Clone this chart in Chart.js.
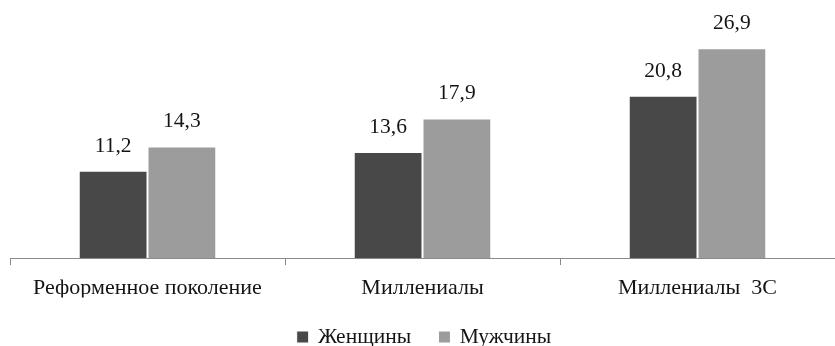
<!DOCTYPE html>
<html lang="ru">
<head>
<meta charset="utf-8">
<script src="https://cdn.jsdelivr.net/npm/chart.js@4/dist/chart.umd.min.js"></script>
<style>
  html, body { margin: 0; padding: 0; background: #ffffff; }
  #wrap { width: 835px; height: 346px; position: relative; }
</style>
</head>
<body>
<div id="wrap"><canvas id="chart"></canvas></div>
<script>
// Поколения и средние значения по полу
const categories = ['Реформенное поколение', 'Миллениалы', 'Миллениалы  3С'];
const women = [11.2, 13.6, 20.8];
const men = [14.3, 17.9, 26.9];
const seriesNames = ['Женщины', 'Мужчины'];

const FONT = '"Liberation Serif", "DejaVu Serif", serif';
const TEXT = '#141414';

// Подписи значений над столбцами (десятичная запятая)
const valueLabels = {
  id: 'valueLabels',
  afterDatasetsDraw(chart) {
    const ctx = chart.ctx;
    ctx.save();
    ctx.font = '21.5px ' + FONT;
    ctx.fillStyle = TEXT;
    ctx.textAlign = 'center';
    ctx.textBaseline = 'alphabetic';
    chart.data.datasets.forEach((ds, i) => {
      const meta = chart.getDatasetMeta(i);
      meta.data.forEach((bar, j) => {
        const txt = ds.data[j].toFixed(1).replace('.', ',');
        ctx.fillText(txt, bar.x, bar.y - 19);
      });
    });
    ctx.restore();
  }
};

new Chart(document.getElementById('chart'), {
  type: 'bar',
  data: {
    labels: categories,
    datasets: [
      { label: seriesNames[0], data: women, backgroundColor: '#484848', borderColor: '#ffffff', borderWidth: 1 },
      { label: seriesNames[1], data: men, backgroundColor: '#9c9c9c', borderColor: '#ffffff', borderWidth: 1 }
    ]
  },
  options: {
    responsive: true,
    maintainAspectRatio: false,
    animation: false,
    layout: { padding: { left: 10, right: -4.5, top: 24, bottom: -11.75 } },
    datasets: { bar: { categoryPercentage: 0.5, barPercentage: 1.0 } },
    scales: {
      x: {
        // ось категорий: только базовая линия и засечки на границах групп
        afterFit(scale) { scale.height = 39.5; },
        grid: { display: true, offset: true, drawOnChartArea: false, drawTicks: true, tickLength: 7, color: '#8a8a8a', lineWidth: 1 },
        border: { display: true, color: '#8a8a8a', width: 1 },
        ticks: { color: TEXT, font: { family: FONT, size: 22 }, padding: 9.8, maxRotation: 0, autoSkip: false }
      },
      y: {
        display: false,
        min: 0,
        max: 30
      }
    },
    plugins: {
      legend: {
        position: 'bottom',
        labels: {
          color: TEXT,
          font: { family: FONT, size: 21.5 },
          usePointStyle: true,
          pointStyle: 'rect',
          boxWidth: 9,
          boxHeight: 12,
          padding: 28.75
        }
      },
      tooltip: { enabled: false }
    }
  },
  plugins: [valueLabels]
});
</script>
</body>
</html>
